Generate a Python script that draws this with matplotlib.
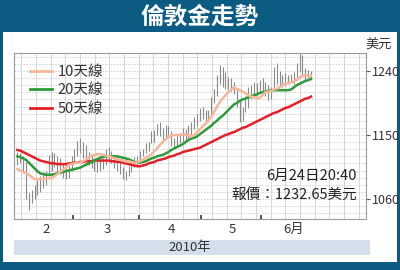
import numpy as np
import matplotlib
matplotlib.use("Agg")
import matplotlib.pyplot as plt
from matplotlib.patches import Rectangle
from matplotlib.lines import Line2D

plt.rcParams['font.family'] = ['Noto Sans CJK TC', 'DejaVu Sans']

# daily bars, 2010-02-01 .. 2010-06-24 (weekdays)
high = [1126, 1124, 1120, 1112, 1068, 1072, 1080, 1086, 1092, 1098,
        1100, 1122, 1126, 1124, 1120, 1118, 1110, 1104, 1106, 1120,
        1130, 1142, 1146, 1140, 1136, 1126, 1122, 1118, 1115, 1119,
        1118, 1130, 1133, 1128, 1122, 1119, 1112, 1105, 1100, 1106,
        1112, 1119, 1120, 1128, 1130, 1139, 1140, 1155, 1157, 1166,
        1168, 1160, 1164, 1163, 1156, 1146, 1150, 1153, 1160, 1158,
        1164, 1168, 1175, 1180, 1188, 1190, 1185, 1185, 1203, 1215,
        1234, 1248, 1246, 1238, 1232, 1230, 1224, 1215, 1200, 1190,
        1205, 1217, 1220, 1225, 1223, 1228, 1230, 1225, 1220, 1218,
        1245, 1251, 1240, 1235, 1237, 1235, 1236, 1238, 1251, 1265,
        1262, 1244, 1241, 1240]
low = [1108, 1110, 1100, 1060, 1045, 1055, 1060, 1065, 1070, 1075,
       1080, 1092, 1100, 1105, 1098, 1095, 1090, 1088, 1090, 1100,
       1110, 1120, 1125, 1118, 1115, 1108, 1103, 1100, 1098, 1100,
       1102, 1108, 1112, 1110, 1103, 1100, 1095, 1088, 1086, 1092,
       1098, 1105, 1108, 1115, 1120, 1125, 1128, 1138, 1140, 1150,
       1148, 1143, 1145, 1150, 1135, 1133, 1135, 1138, 1140, 1142,
       1146, 1150, 1158, 1162, 1170, 1172, 1165, 1168, 1180, 1195,
       1205, 1222, 1218, 1215, 1214, 1212, 1208, 1190, 1168, 1170,
       1182, 1188, 1200, 1203, 1205, 1210, 1212, 1205, 1199, 1200,
       1215, 1222, 1220, 1217, 1220, 1222, 1224, 1222, 1228, 1240,
       1232, 1227, 1230, 1228]

ma10 = [1102, 1100, 1098, 1096, 1094, 1091, 1088, 1088, 1088, 1088,
        1089, 1089, 1089, 1092, 1095, 1098, 1101, 1104, 1108, 1109,
        1110, 1111, 1111, 1113, 1115, 1118, 1121, 1122, 1123, 1123,
        1122, 1121, 1120, 1119, 1117, 1116, 1115, 1114, 1113, 1113,
        1112, 1111, 1111, 1113, 1115, 1118, 1120, 1123, 1127, 1131,
        1136, 1140, 1144, 1147, 1149, 1150, 1150, 1150, 1151, 1151,
        1150, 1148, 1150, 1154, 1158, 1162, 1166, 1170, 1176, 1182,
        1190, 1196, 1201, 1206, 1210, 1214, 1217, 1215, 1213, 1211,
        1209, 1206, 1204, 1203, 1202, 1202, 1206, 1210, 1211, 1212,
        1214, 1215, 1217, 1220, 1222, 1223, 1224, 1225, 1228, 1231,
        1233, 1234, 1233, 1233]
ma20 = [1120, 1119, 1117, 1115, 1111, 1107, 1103, 1099, 1096, 1095,
        1094, 1094, 1094, 1095, 1096, 1097, 1098, 1099, 1100, 1101,
        1102, 1103, 1104, 1106, 1108, 1110, 1112, 1114, 1116, 1118,
        1119, 1120, 1120, 1120, 1120, 1120, 1119, 1118, 1117, 1116,
        1114, 1112, 1111, 1111, 1112, 1113, 1115, 1117, 1118, 1120,
        1121, 1122, 1124, 1126, 1129, 1131, 1133, 1135, 1137, 1140,
        1143, 1145, 1146, 1148, 1151, 1154, 1157, 1160, 1163, 1167,
        1170, 1174, 1177, 1181, 1185, 1189, 1193, 1195, 1198, 1200,
        1201, 1203, 1204, 1206, 1207, 1209, 1210, 1211, 1212, 1213,
        1213, 1213, 1213, 1213, 1213, 1213, 1214, 1217, 1220, 1222,
        1224, 1226, 1227, 1229]
ma50 = [1129, 1128, 1126, 1124, 1122, 1120, 1118, 1116, 1114, 1113,
        1112, 1111, 1110, 1110, 1109, 1109, 1109, 1109, 1110, 1110,
        1111, 1111, 1112, 1112, 1113, 1113, 1113, 1114, 1114, 1114,
        1114, 1114, 1114, 1113, 1113, 1112, 1112, 1111, 1110, 1109,
        1108, 1107, 1106, 1106, 1107, 1108, 1110, 1111, 1112, 1114,
        1115, 1116, 1117, 1119, 1120, 1121, 1123, 1124, 1126, 1127,
        1128, 1129, 1130, 1131, 1132, 1134, 1136, 1138, 1140, 1142,
        1144, 1146, 1148, 1150, 1151, 1153, 1154, 1156, 1158, 1160,
        1161, 1163, 1165, 1167, 1169, 1171, 1173, 1175, 1177, 1179,
        1181, 1182, 1184, 1186, 1188, 1189, 1191, 1193, 1195, 1197,
        1199, 1201, 1202, 1204]

months = ['2', '3', '4', '5', '6月']
month_days = [20, 23, 22, 21, 22]   # weekdays per month
yticks = [1060, 1150, 1240]
legend_labels = ['10天線', '20天線', '50天線']

navy = '#0b5b83'
x = np.arange(len(high))

fig = plt.figure(figsize=(4, 2.7), dpi=100)
fig.patch.set_facecolor(navy)
fig.patches.append(Rectangle((0.0075, 0.0296), 0.985, 0.852, transform=fig.transFigure,
                             facecolor='white', edgecolor='none', zorder=-2))
fig.patches.append(Rectangle((0.035, 0.0556), 0.89, 0.0556, transform=fig.transFigure,
                             facecolor='#d3dfea', edgecolor='none', zorder=-1))
fig.text(0.5, 0.94, '倫敦金走勢', color='white', fontsize=17, fontweight='bold',
         ha='center', va='center')
fig.text(0.475, 0.082, '2010年', color='#333333', fontsize=9.5, ha='center', va='center')
fig.text(0.948, 0.835, '美元', color='#333333', fontsize=9.5, ha='center', va='center')

ax = fig.add_axes([0.035, 0.1889, 0.88, 0.6148])
ax.set_xlim(-1.2, 122.3)
ax.set_ylim(1031.8, 1265.3)

# grid
ax.vlines([(k + 0.5) / 24 for k in range(24)], 0, 1, transform=ax.transAxes,
          color='#d6d6d6', lw=0.7, zorder=0)
ax.hlines(np.arange(1040, 1265, 10), -1.2, 122.3, color='#cfcfcf', lw=0.6,
          linestyles=(0, (2, 1.5)), zorder=0)

# price bars
ax.vlines(x, low, high, color='#8a8a8a', lw=0.8, zorder=2)

ax.plot(x, ma50, color='#e32027', lw=1.8, zorder=3)
ax.plot(x, ma20, color='#2f9a3a', lw=1.8, zorder=4)
ax.plot(x, ma10, color='#f6b79b', lw=1.8, zorder=5)

# legend
handles = [Line2D([], [], color=c, lw=2) for c in ['#f6b79b', '#2f9a3a', '#e32027']]
ax.legend(handles, legend_labels, loc='upper left', bbox_to_anchor=(0.045, 0.93),
          frameon=False, fontsize=10.5, handlelength=1.5, handletextpad=0.4,
          labelspacing=0.33, borderpad=0, borderaxespad=0, labelcolor='#333333')

ax.text(0.974, 0.259, '6月24日20:40', transform=ax.transAxes, ha='right', va='center',
        fontsize=10.5, color='#222222')
ax.text(0.974, 0.145, '報價：1232.65美元', transform=ax.transAxes, ha='right', va='center',
        fontsize=10.5, color='#222222')

# axes
ends = np.cumsum(month_days)
starts = ends - np.array(month_days)
ax.set_xticks(ends[:4] - 0.5)
ax.set_xticklabels([])
ax.tick_params(axis='x', which='major', direction='in', length=3, width=1.2, color='#333333')
ax.set_xticks((starts + ends - 1) / 2 + 0.5, minor=True)
ax.set_xticklabels(months, minor=True)
ax.tick_params(axis='x', which='minor', length=0, labelsize=9.5, labelcolor='#333333', pad=3)

ax.yaxis.tick_right()
ax.set_yticks(yticks)
ax.tick_params(axis='y', direction='out', length=3, color='#555555', labelsize=9,
               labelcolor='#333333', pad=1)
for s in ax.spines.values():
    s.set_color('#9a9a9a')
    s.set_linewidth(0.8)

fig.savefig('out.png', dpi=100, facecolor=fig.get_facecolor())
